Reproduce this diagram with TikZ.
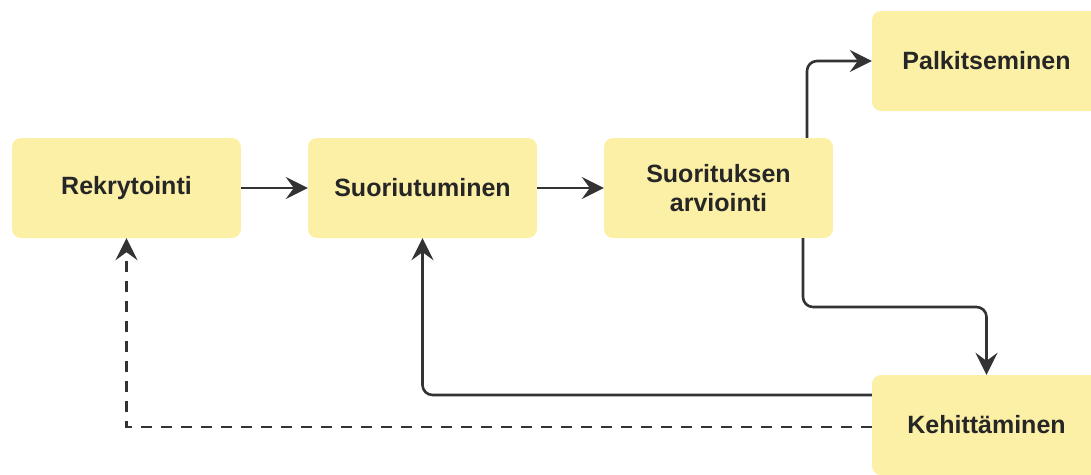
\documentclass[tikz,border=0pt]{standalone}
\usepackage{fontspec}
\setmainfont{Liberation Sans}
\usetikzlibrary{arrows.meta}
\definecolor{boxfill}{HTML}{FCF0A6}
\definecolor{linecol}{HTML}{333333}
\definecolor{textcol}{HTML}{262626}
\begin{document}
\begin{tikzpicture}[x=1pt,y=-1pt,
  stagebox/.style={fill=boxfill, rounded corners=9pt, minimum width=229pt,
    minimum height=100pt, align=center, inner sep=0pt,
    font=\fontsize{25}{29}\selectfont\bfseries, text=textcol},
  flow/.style={draw=linecol, line width=2.6pt, rounded corners=10pt,
    -{Stealth[length=22pt,width=22pt,inset=8pt]}},
  feedback/.style={flow, rounded corners=0pt, dash pattern=on 11pt off 9pt}]
  \useasboundingbox (0,0) rectangle (1091,474);
  \begin{scope}
    \clip (0,0) rectangle (1091,474);
    \node[stagebox] (rek) at (126.5,188) {Rekrytointi};
    \node[stagebox] (suo) at (422.5,188) {Suoriutuminen};
    \node[stagebox] (arv) at (718.5,188) {Suorituksen\\arviointi};
    \node[stagebox] (pal) at (986.5,61) {Palkitseminen};
    \node[stagebox] (keh) at (986.5,425) {Kehittäminen};
  \end{scope}
  \coordinate (up) at (807,0);
  \coordinate (down) at (803,307);
  \coordinate (back) at (0,395);
  \coordinate (far) at (0,427);
  \draw[flow] (rek.east) -- (suo.west);
  \draw[flow] (suo.east) -- (arv.west);
  \draw[flow] (arv.north -| up) |- (pal.west);
  \draw[flow] (arv.south -| down) -- (down) -| (keh.north);
  \draw[flow] (keh.west |- back) -| (suo.south);
  \draw[feedback] (keh.west |- far) -| (rek.south);
\end{tikzpicture}
\end{document}
